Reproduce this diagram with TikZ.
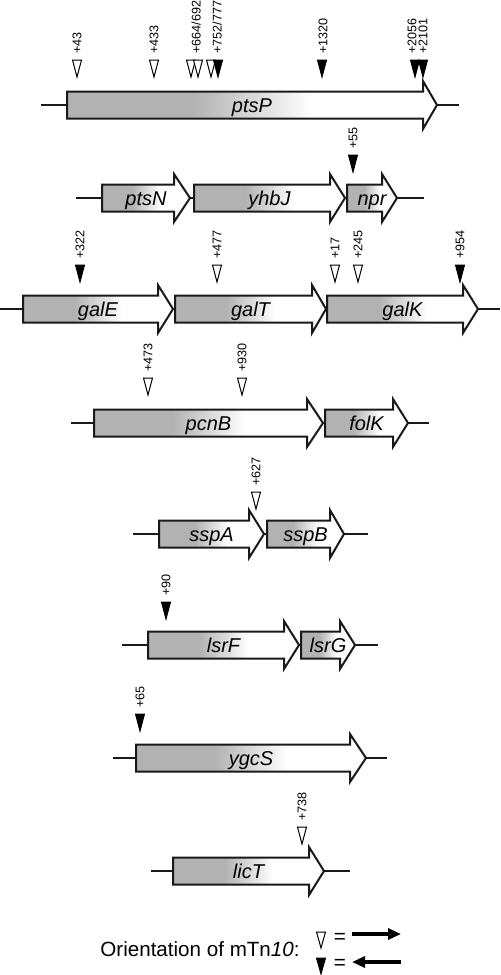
\documentclass[tikz,border=0pt]{standalone}
\usepackage{fontspec}
\setmainfont{Liberation Sans}
\usetikzlibrary{arrows.meta}
\definecolor{genegray}{RGB}{178,178,178}
\pgfdeclarehorizontalshading{genegrad}{100bp}{color(0bp)=(genegray); color(42bp)=(genegray); color(58bp)=(white); color(100bp)=(white)}

\begin{document}
\begin{tikzpicture}[x=0.5pt,y=-0.5pt]
        \tikzstyle{backbone}=[line width=1pt, black!90]
        \tikzstyle{gene}=[draw=black!90, line width=1pt, shading=genegrad]
        \tikzstyle{genelabel}=[font=\fontsize{10}{12}\selectfont\itshape, inner sep=0pt, anchor=base]
        \tikzstyle{opentri}=[draw, fill=white, line width=0.5pt]
        \tikzstyle{filltri}=[draw, fill=black, line width=0.5pt]
        \tikzstyle{poslabel}=[font=\fontsize{6.3}{7}\selectfont, rotate=90, anchor=west, inner sep=0pt]
        \tikzstyle{legtext}=[font=\fontsize{10.3}{12}\selectfont, inner sep=0pt, anchor=base]
        \tikzstyle{legarrow}=[line width=2pt, -{Triangle[length=6.5pt, width=5.5pt]}]
        \useasboundingbox (0,0) rectangle (500,975);

        \foreach \a/\b/\y in {41/459/105, 76/424/198, 0/500/309, 71/429/423,
          133/368/534, 122/378/645, 113/387/758, 151/350/871}
        {
          \draw[backbone] (\a,\y) -- (\b,\y);
        }

        \foreach \a/\b/\c/\y/\g in {67/423/437/105/ptsP,
          102/174/190/198/ptsN, 194/330/345/198/yhbJ, 347/382/397/198/npr,
          23/158/173/309/galE, 175/312/326/309/galT, 327/463/478/309/galK,
          94/307/323/423/pcnB, 325/393/408/423/folK,
          159/249/264/534/sspA, 267/330/344/534/sspB,
          148/284/299/645/lsrF, 301/340/355/645/lsrG,
          136/350/366/758/ygcS, 173/309/324/871/licT}
        {
          \path[gene] (\a,\y-13.5) -- (\b,\y-13.5) -- (\b,\y-24) -- (\c,\y)
            -- (\b,\y+24) -- (\b,\y+13.5) -- (\a,\y+13.5) -- cycle;
          \path ({(\a+\c)/2},\y+7) node[genelabel] (\g) {\g};
        }

        \foreach \x/\t in {77/60, 154/60, 191/60, 198/60, 211/60,
          217/265, 335/265, 358/265, 148/378, 242/378, 256/492, 302/827}
        {
          \path[opentri] (\x-4.5,\t) -- (\x+4.5,\t) -- (\x,\t+17) -- cycle;
        }

        \foreach \x/\t in {218/60, 322/60, 415/60, 423/60, 353/155,
          80/265, 460/265, 166/602, 140/714}
        {
          \path[filltri] (\x-4.5,\t) -- (\x+4.5,\t) -- (\x,\t+17) -- cycle;
        }

        \foreach \x/\t/\lab [count=\n] in {77/54/+43, 154/54/+433,
          196/54/{+664/692}, 217/54/{+752/777}, 323/54/+1320,
          412/54/+2056, 423/54/+2101, 353/149/+55,
          80/259/+322, 217/259/+477, 335/259/+17, 358/259/+245, 460/259/+954,
          148/372/+473, 242/372/+930, 256/486/+627, 166/596/+90,
          140/708/+65, 302/821/+738}
        {
          \path (\x,\t) node[poslabel] (ins\n) {\lab};
        }

        \path (200,956) node[legtext] (legend) {Orientation of mTn\textit{10}:};
        \path[opentri] (316.5,932) -- (325.5,932) -- (321,948) -- cycle;
        \path[filltri] (316.5,958) -- (325.5,958) -- (321,974) -- cycle;
        \path (340,943) node[legtext] (eqfwd) {=};
        \path (340,969) node[legtext] (eqrev) {=};
        \coordinate (fwdtail) at (352,934);
        \coordinate (fwdhead) at (401,934);
        \coordinate (revtail) at (401,962);
        \coordinate (revhead) at (352,962);
        \draw[legarrow] (fwdtail) -- (fwdhead);
        \draw[legarrow] (revtail) -- (revhead);
      \end{tikzpicture}
\end{document}
